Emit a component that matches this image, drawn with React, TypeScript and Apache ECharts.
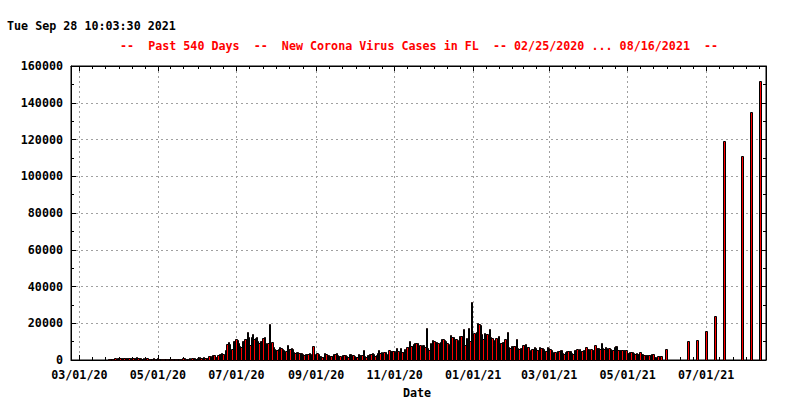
import React, { useEffect, useRef } from 'react';
import * as echarts from 'echarts';

// ---- data (daily new cases) ----
const START_DATE_UTC = Date.UTC(2020, 1, 24); // first category: 02/24/2020
const FEB_2020 = [0, 0, 0, 0, 0, 0];
const MAR_2020 = [2, 0, 1, 0, 4, 2, 2, 5, 4, 3, 9, 12, 20, 25, 38, 35, 60, 100, 120, 150, 250, 270, 250, 350, 450, 650, 500, 700, 950, 800, 1000];
const APR_2020 = [1100, 1300, 1250, 1050, 1200, 1000, 1100, 1250, 1100, 1300, 1050, 900, 950, 850, 1400, 1000, 1300, 950, 700, 1200, 800, 1000, 900, 750, 800, 700, 600, 900, 750, 800];
const MAY_2020 = [900, 700, 550, 800, 600, 700, 800, 650, 700, 600, 500, 700, 750, 800, 700, 750, 650, 600, 750, 800, 900, 950, 750, 600, 500, 850, 700, 1000, 1200, 1050, 700];
const JUN_2020 = [1200, 1300, 1400, 1100, 1300, 1400, 1250, 1000, 1000, 2000, 2200, 1900, 2600, 2500, 1800, 1750, 2700, 3200, 3500, 4000, 3300, 2900, 5500, 8900, 9600, 8500, 5300, 6100, 10100, 10400];
const JUL_2020 = [11200, 11100, 9500, 7400, 7300, 10100, 10500, 11400, 11400, 15300, 12600, 8000, 12600, 14000, 11400, 12100, 12400, 10300, 9300, 10300, 10500, 12200, 12400, 9300, 8900, 9200, 19700, 9400, 9700, 7300, 6100];
const AUG_2020 = [5400, 5300, 5800, 7100, 6500, 6200, 5400, 4200, 4700, 8100, 6200, 5900, 6400, 6200, 4100, 3800, 4600, 4500, 3900, 4000, 3800, 3300, 2600, 3300, 3200, 3300, 3600, 3200, 2600, 7600, 1800];
const SEP_2020 = [3200, 3600, 3100, 2400, 2300, 1900, 1800, 3600, 3200, 2700, 2600, 2400, 2000, 2300, 3300, 3000, 3600, 2800, 2400, 2200, 1600, 2500, 2600, 2500, 2400, 1900, 3300, 3200, 2500, 2500];
const OCT_2020 = [2100, 1500, 1800, 3100, 2900, 2600, 2900, 5400, 2100, 1800, 2500, 2900, 3300, 3100, 3600, 3400, 2100, 2700, 3600, 5400, 3700, 4300, 4000, 4300, 4200, 2600, 3400, 5400, 5000, 5100, 5000];
const NOV_2020 = [4900, 4600, 6300, 4900, 4500, 6300, 4200, 4100, 5800, 5600, 7000, 6900, 10300, 7800, 7700, 8700, 9400, 9000, 9400, 7200, 8100, 6700, 8000, 8100, 7000, 17200, 6300, 5500, 9000, 8400];
const DEC_2020 = [10900, 10500, 10000, 9600, 9000, 6900, 10000, 11200, 11300, 11000, 10400, 9000, 8500, 8400, 13600, 12700, 12700, 11500, 11200, 10900, 10400, 13000, 13000, 12800, 16800, 8100, 11800, 11500, 17200, 10100, 31700];
const JAN_2021 = [11200, 14800, 12000, 15400, 19900, 19800, 19000, 14000, 11200, 14500, 14200, 13900, 13700, 16600, 12700, 12100, 8100, 10700, 11800, 11600, 13200, 9400, 9300, 10000, 9800, 11200, 10900, 15000, 7200, 6800, 7600];
const FEB_2021 = [7500, 7700, 7600, 11400, 6300, 5900, 6700, 6500, 8100, 8000, 8500, 7200, 6900, 5400, 5100, 6000, 5900, 6900, 6800, 5400, 5200, 6900, 6500, 6300, 6200, 5100, 5000, 6900];
const MAR_2021 = [6400, 5800, 5700, 4000, 4100, 4200, 4000, 5100, 5000, 5400, 5300, 3600, 3500, 4500, 4800, 4900, 4700, 4900, 3600, 3500, 5400, 5500, 5800, 5600, 5800, 4900, 4800, 5400, 5300, 6900, 6000];
const APR_2021 = [5900, 5100, 5800, 5700, 5200, 8100, 6700, 6600, 6300, 6200, 9000, 6300, 6200, 6900, 6800, 4500, 6300, 6100, 5400, 5300, 6900, 7600, 7500, 5400, 5400, 5300, 5400, 5200, 5300, 5400];
const MAY_2021 = [4000, 3900, 4200, 4100, 4200, 3600, 3500, 3600, 3100, 3000, 4200, 3400, 3300, 2700, 2600, 2700, 2700, 2600, 2700, 3300, 3300, 1800, 1800, 1300, 2200, 2200, 2100, 0, 0, 0, 5800];
const JUN_2021 = [0, 0, 0, 0, 0, 0, 0, 0, 0, 0, 0, 0, 0, 0, 0, 0, 10300, 0, 0, 0, 0, 0, 0, 10900, 0, 0, 0, 0, 0, 0];
const JUL_2021 = [15800, 0, 0, 0, 0, 0, 0, 23900, 0, 0, 0, 0, 0, 0, 119000, 0, 0, 0, 0, 0, 0, 0, 0, 0, 0, 0, 0, 0, 111000, 0, 0];
const AUG_2021 = [0, 0, 0, 0, 135000, 0, 0, 0, 0, 0, 0, 152000, 0, 0, 0, 0];

const DAILY_CASES = [
  ...FEB_2020, ...MAR_2020, ...APR_2020, ...MAY_2020, ...JUN_2020, ...JUL_2020,
  ...AUG_2020, ...SEP_2020, ...OCT_2020, ...NOV_2020, ...DEC_2020, ...JAN_2021,
  ...FEB_2021, ...MAR_2021, ...APR_2021, ...MAY_2021, ...JUN_2021, ...JUL_2021, ...AUG_2021,
];

const X_TICK_LABELS = ['03/01/20', '05/01/20', '07/01/20', '09/01/20', '11/01/20', '01/01/21', '03/01/21', '05/01/21', '07/01/21'];
const NEXT_TICK_UTC = Date.UTC(2021, 8, 1); // 09/01/21, beyond the range, for minor tics
const Y_MIN = 0;
const Y_MAX = 160000;
const Y_STEP = 20000;

const STAMP_TEXT = 'Tue Sep 28 10:03:30 2021';
const TITLE_TEXT = '--  Past 540 Days  --  New Corona Virus Cases in FL  -- 02/25/2020 ... 08/16/2021  --';
const X_NAME = 'Date';

const DAY_MS = 86400000;
const pad = (n: number) => (n < 10 ? '0' + n : '' + n);
const fmtDate = (ms: number) => {
  const d = new Date(ms);
  return pad(d.getUTCMonth() + 1) + '/' + pad(d.getUTCDate()) + '/' + pad(d.getUTCFullYear() % 100);
};
const CATEGORIES = DAILY_CASES.map((_, i) => fmtDate(START_DATE_UTC + i * DAY_MS));

const MAJOR_IDX = X_TICK_LABELS.map((l) => CATEGORIES.indexOf(l));
const MAJOR_SET = new Set(MAJOR_IDX);
const MINOR_SET = (() => {
  const s = new Set<number>();
  const ext = [...MAJOR_IDX, Math.round((NEXT_TICK_UTC - START_DATE_UTC) / DAY_MS)];
  for (let k = 0; k < ext.length - 1; k++) {
    const a = ext[k];
    const b = ext[k + 1];
    for (let j = 1; j < 6; j++) s.add(Math.round(a + ((b - a) * j) / 6));
  }
  return s;
})();

const FONT_FAMILY = '"DejaVu Sans Mono", "Liberation Mono", monospace';
const FONT_SIZE = 11.7;
const FONT = `bold ${FONT_SIZE}px ${FONT_FAMILY}`;

export default function App() {
  const ref = useRef<HTMLDivElement>(null);

  useEffect(() => {
    document.body.style.margin = '0';
    const chart = echarts.init(ref.current!, undefined, { renderer: 'svg' });
    const gridDash = { color: '#a0a0a0', width: 1, type: [2, 3] as any };
    const labelStyle = { color: '#000', fontFamily: FONT_FAMILY, fontWeight: 'bold' as const, fontSize: FONT_SIZE };

    const xBase = {
      type: 'category' as const,
      data: CATEGORIES,
      boundaryGap: true,
      gridIndex: 0,
    };

    chart.setOption({
      animation: false,
      backgroundColor: '#fff',
      grid: { left: 71, right: 34, top: 66, bottom: 40, show: true, borderColor: '#000', borderWidth: 1, backgroundColor: 'transparent' },
      xAxis: [
        {
          ...xBase,
          position: 'bottom',
          axisLine: { show: true, lineStyle: { color: '#000', width: 1 } },
          axisTick: { show: true, inside: true, length: 5, alignWithLabel: true, interval: (i: number) => MAJOR_SET.has(i), lineStyle: { color: '#000' } },
          axisLabel: { show: true, margin: 9, lineHeight: 12, interval: (i: number) => MAJOR_SET.has(i), ...labelStyle },
          splitLine: { show: true, alignWithLabel: true, interval: (i: number) => MAJOR_SET.has(i), lineStyle: gridDash },
        },
        {
          ...xBase,
          position: 'bottom',
          axisLine: { show: false },
          axisTick: { show: true, inside: true, length: 3, alignWithLabel: true, interval: (i: number) => MINOR_SET.has(i), lineStyle: { color: '#000' } },
          axisLabel: { show: false },
          splitLine: { show: false },
        },
        {
          ...xBase,
          position: 'top',
          axisLine: { show: true, lineStyle: { color: '#000', width: 1 } },
          axisTick: { show: true, inside: true, length: 5, alignWithLabel: true, interval: (i: number) => MAJOR_SET.has(i), lineStyle: { color: '#000' } },
          axisLabel: { show: false },
          splitLine: { show: false },
        },
        {
          ...xBase,
          position: 'top',
          axisLine: { show: false },
          axisTick: { show: true, inside: true, length: 3, alignWithLabel: true, interval: (i: number) => MINOR_SET.has(i), lineStyle: { color: '#000' } },
          axisLabel: { show: false },
          splitLine: { show: false },
        },
      ],
      yAxis: [
        {
          type: 'value',
          position: 'left',
          min: Y_MIN,
          max: Y_MAX,
          interval: Y_STEP,
          axisLine: { show: true, lineStyle: { color: '#000', width: 1 } },
          axisTick: { show: true, inside: true, length: 5, lineStyle: { color: '#000' } },
          minorTick: { show: true, splitNumber: 2, length: 3, lineStyle: { color: '#000' } },
          axisLabel: { show: true, margin: 8, formatter: (v: number) => String(v), ...labelStyle },
          splitLine: { show: true, lineStyle: gridDash },
        },
        {
          type: 'value',
          position: 'right',
          min: Y_MIN,
          max: Y_MAX,
          interval: Y_STEP,
          axisLine: { show: true, lineStyle: { color: '#000', width: 1 } },
          axisTick: { show: true, inside: true, length: 5, lineStyle: { color: '#000' } },
          minorTick: { show: true, splitNumber: 2, length: 3, lineStyle: { color: '#000' } },
          axisLabel: { show: false },
          splitLine: { show: false },
        },
      ],
      series: [
        {
          type: 'custom',
          xAxisIndex: 0,
          yAxisIndex: 0,
          silent: true,
          encode: { x: 0, y: 1 },
          data: DAILY_CASES.map((v, i) => [i, v]),
          renderItem: (params: any, api: any) => {
            const i = Number(api.value(0));
            const v = api.value(1);
            if (!v) return null;
            const top = api.coord([i, v]);
            const base = api.coord([i, 0]);
            const w = api.size([1, 0])[0];
            const l = Math.floor(top[0] - w / 2 + 1e-6);
            const r = Math.floor(top[0] + w / 2 + 1e-6);
            const t = Math.round(top[1]);
            const b = Math.round(base[1]);
            const nextEmpty = !DAILY_CASES[i + 1];
            const width = nextEmpty ? Math.max(r - l, 2) : Math.max(r - l, 1);
            return {
              type: 'rect',
              shape: { x: l + 0.5, y: t + 0.5, width, height: b - t },
              style: { fill: '#ff0000', stroke: '#000000', lineWidth: 1 },
            };
          },
        },
      ],
      graphic: [
        { type: 'text', x: 7, y: 26, style: { text: STAMP_TEXT, fill: '#000', font: FONT, align: 'left', verticalAlign: 'middle' } },
        { type: 'text', x: 120, y: 46, style: { text: TITLE_TEXT, fill: '#ff0000', font: FONT, align: 'left', verticalAlign: 'middle' } },
        { type: 'text', x: 417, y: 393, style: { text: X_NAME, fill: '#000', font: FONT, align: 'center', verticalAlign: 'middle' } },
      ],
    });
    return () => chart.dispose();
  }, []);

  return <div ref={ref} style={{ position: 'absolute', left: 0, top: 0, width: 800, height: 400, background: '#fff' }} />;
}
